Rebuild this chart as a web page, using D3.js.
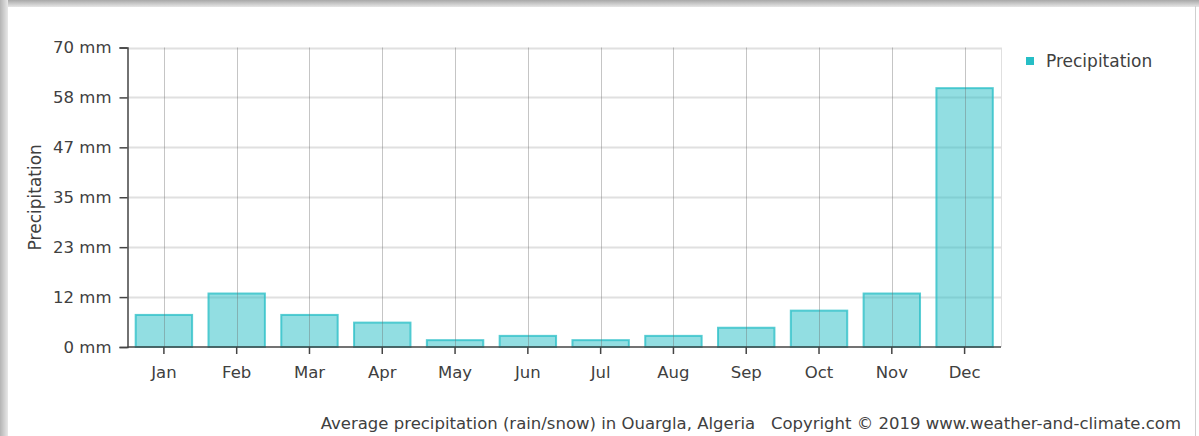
<!DOCTYPE html>
<html>
<head>
<meta charset="utf-8">
<script src="https://cdn.jsdelivr.net/npm/d3@7"></script>
<style>
  html, body { margin: 0; padding: 0; background: #fff; }
  svg { display: block; }
  text { font-family: "DejaVu Sans", Verdana, sans-serif; fill: #404040; }
</style>
</head>
<body>
<svg id="chart"></svg>
<script>
// Ouargla, Algeria - average precipitation per month (mm)
const months = ['Jan', 'Feb', 'Mar', 'Apr', 'May', 'Jun', 'Jul', 'Aug', 'Sep', 'Oct', 'Nov', 'Dec']
const precipitation = [7.5, 12.5, 7.5, 5.7, 1.6, 2.6, 1.6, 2.6, 4.5, 8.5, 12.5, 60.5]
const yTicks = [0, 70 / 6, 140 / 6, 35, 280 / 6, 350 / 6, 70]
const yMax = 70

const width = 1199
const height = 436
const margin = { left: 127.5, right: 198, top: 47.5, bottom: 89 }

const svg = d3.select('#chart')
  .attr('width', width)
  .attr('height', height)

// frame / shadow around the picture
const defs = svg.append('defs')
const topGrad = defs.append('linearGradient')
  .attr('id', 'topShade').attr('x1', 0).attr('y1', 0).attr('x2', 0).attr('y2', 1)
topGrad.append('stop').attr('offset', '0%').attr('stop-color', '#a8a8a8')
topGrad.append('stop').attr('offset', '100%').attr('stop-color', '#e6e6e6')
const leftGrad = defs.append('linearGradient')
  .attr('id', 'leftShade').attr('x1', 0).attr('y1', 0).attr('x2', 1).attr('y2', 0)
leftGrad.append('stop').attr('offset', '0%').attr('stop-color', '#b4b4b4')
leftGrad.append('stop').attr('offset', '100%').attr('stop-color', '#e8e8e8')

svg.append('rect').attr('x', 0).attr('y', 0).attr('width', width).attr('height', 7)
  .attr('fill', 'url(#topShade)')
svg.append('rect').attr('x', 0).attr('y', 0).attr('width', 8).attr('height', height)
  .attr('fill', 'url(#leftShade)')
svg.append('line')
  .attr('x1', 1195.5).attr('x2', 1195.5).attr('y1', 6).attr('y2', height)
  .attr('stroke', '#cfcfcf').attr('stroke-width', 1)

const x = d3.scaleBand()
  .domain(months)
  .range([margin.left, width - margin.right])
  .paddingInner(0.225)
  .paddingOuter(0.1125)

const y = d3.scaleLinear()
  .domain([0, yMax])
  .range([height - margin.bottom, margin.top])

const plotRight = width - margin.right

// horizontal grid
svg.append('g')
  .selectAll('line')
  .data(yTicks.slice(1))
  .enter().append('line')
  .attr('x1', margin.left).attr('x2', plotRight)
  .attr('y1', d => Math.round(y(d)) + 0.5).attr('y2', d => Math.round(y(d)) + 0.5)
  .attr('stroke', '#e0e0e0')
  .attr('stroke-width', 2)

// right border of plot
svg.append('line')
  .attr('x1', plotRight + 0.5).attr('x2', plotRight + 0.5)
  .attr('y1', y(yMax)).attr('y2', y(0))
  .attr('stroke', '#e0e0e0')

// bars
svg.append('g')
  .selectAll('rect')
  .data(precipitation)
  .enter().append('rect')
  .attr('x', (d, i) => x(months[i]))
  .attr('y', d => y(d))
  .attr('width', x.bandwidth())
  .attr('height', d => y(0) - y(d))
  .attr('fill', 'rgba(38, 190, 198, 0.5)')
  .attr('stroke', 'rgba(38, 190, 198, 0.75)')
  .attr('stroke-width', 2)

// vertical grid at month centres (shows through the bars)
svg.append('g')
  .selectAll('line')
  .data(months)
  .enter().append('line')
  .attr('x1', d => Math.round(x(d) + x.bandwidth() / 2) + 0.5)
  .attr('x2', d => Math.round(x(d) + x.bandwidth() / 2) + 0.5)
  .attr('y1', y(yMax)).attr('y2', y(0))
  .attr('stroke', 'rgba(110, 110, 110, 0.4)')

// y axis
const yAxis = svg.append('g')
  .attr('transform', `translate(${margin.left},0)`)
  .call(d3.axisLeft(y)
    .tickValues(yTicks)
    .tickSize(8)
    .tickPadding(8)
    .tickFormat(d => Math.round(d) + ' mm'))
yAxis.select('.domain').attr('stroke', '#444').attr('stroke-width', 1.5)
yAxis.selectAll('.tick line').attr('stroke', '#444').attr('stroke-width', 1.5)
yAxis.selectAll('.tick text').attr('font-size', 16.5).attr('fill', '#404040')
  .style('font-family', '"DejaVu Sans", sans-serif')

// x axis
const xAxis = svg.append('g')
  .attr('transform', `translate(0,${y(0)})`)
  .call(d3.axisBottom(x).tickSize(7).tickPadding(12.5))
xAxis.select('.domain').attr('stroke', '#444').attr('stroke-width', 1.5)
  .attr('d', `M${margin.left},0H${plotRight}`)
xAxis.selectAll('.tick line').attr('stroke', '#444').attr('stroke-width', 1.5)
xAxis.selectAll('.tick text').attr('font-size', 16.5).attr('fill', '#404040')
  .style('font-family', '"DejaVu Sans", sans-serif')

// y axis title
svg.append('text')
  .attr('transform', `translate(41,${(y(0) + y(yMax)) / 2}) rotate(-90)`)
  .attr('text-anchor', 'middle')
  .attr('font-size', 17)
  .text('Precipitation')

// legend
svg.append('rect')
  .attr('x', 1026).attr('y', 57)
  .attr('width', 8).attr('height', 8)
  .attr('fill', '#26bec6')
svg.append('text')
  .attr('x', 1046).attr('y', 67)
  .attr('font-size', 17)
  .text('Precipitation')

// footer
svg.append('text')
  .attr('x', 1181).attr('y', 429)
  .attr('text-anchor', 'end')
  .attr('font-size', 16.5)
  .text('Average precipitation (rain/snow) in Ouargla, Algeria   Copyright © 2019 www.weather-and-climate.com')
  .style('white-space', 'pre')
</script>
</body>
</html>
